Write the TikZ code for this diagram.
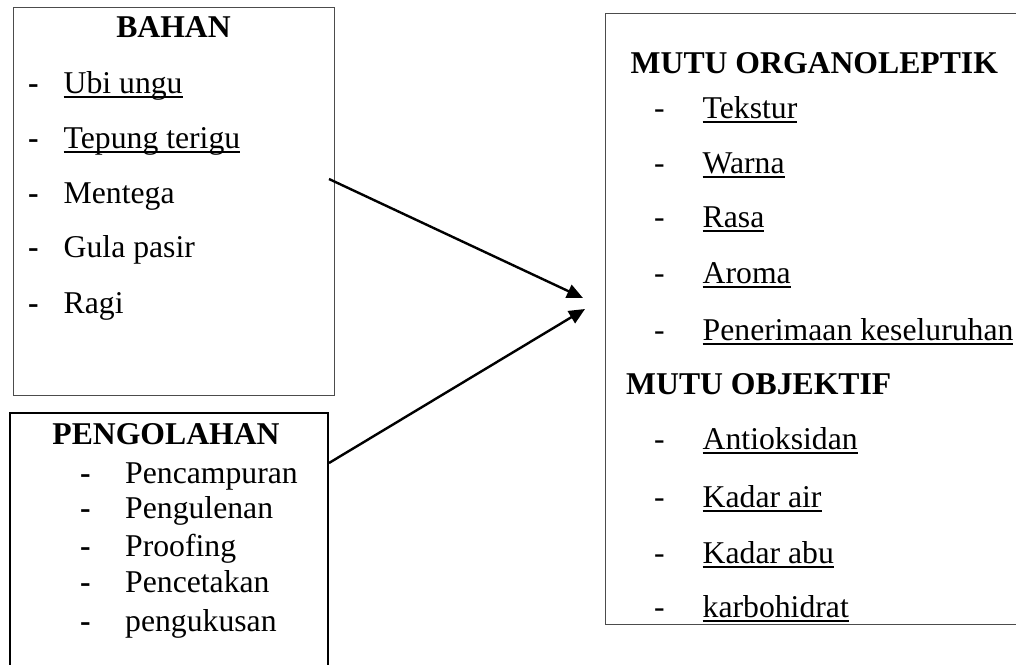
\documentclass[tikz,border=0pt]{standalone}
\usepackage{fontspec}
\setmainfont{Liberation Serif}
\usetikzlibrary{arrows.meta, positioning}
\newcommand{\garis}[1]{\setbox0\hbox{#1}\rlap{\rule[-0.17em]{\wd0}{0.065em}}\box0}

\begin{document}
\begin{tikzpicture}[x=1pt,y=-1pt,
		font=\fontsize{31.7}{38}\selectfont,
		kotak/.style={draw=black!70, line width=1pt, outer sep=0pt, anchor=north west},
		judul/.style={anchor=base, inner sep=0pt, font=\fontsize{31.7}{38}\selectfont\bfseries},
		butir/.style={anchor=base west, inner sep=0pt},
		panah/.style={-{Triangle[length=16pt,width=14pt]}, line width=2.4pt}]
	\useasboundingbox (0,0) rectangle (1016,664);
	\clip (0,0) rectangle (1016,664);
	% kotak
	\node[kotak, minimum width=321pt, minimum height=388pt] (bahan) at (13,7) {};
	\node[kotak, draw=black, line width=2.6pt, minimum width=318pt, minimum height=300pt] (olah) at (10,413) {};
	\node[kotak, minimum width=440pt, minimum height=611pt] (mutu) at (605,13) {};
	% bahan
	\node[judul] (tbahan) at (173.5,37) {BAHAN};
	\node[butir] (b1) at (63.5,93) {\garis{Ubi ungu}};
	\node[butir] (b2) at (63.5,148) {\garis{Tepung terigu}};
	\node[butir] (b3) at (63.5,203) {Mentega};
	\node[butir] (b4) at (63.5,257) {Gula pasir};
	\node[butir] (b5) at (63.5,313) {Ragi};
	\node[butir] at (28,93) {\textbf{-}};
	\node[butir] at (28,148) {\textbf{-}};
	\node[butir] at (28,203) {\textbf{-}};
	\node[butir] at (28,257) {\textbf{-}};
	\node[butir] at (28,313) {\textbf{-}};
	% pengolahan
	\node[judul] (tolah) at (166,444) {PENGOLAHAN};
	\node[butir] (p1) at (125,483) {Pencampuran};
	\node[butir] (p2) at (125,518) {Pengulenan};
	\node[butir] (p3) at (125,556) {Proofing};
	\node[butir] (p4) at (125,592) {Pencetakan};
	\node[butir] (p5) at (125,631) {pengukusan};
	\node[butir] at (80,483) {\textbf{-}};
	\node[butir] at (80,518) {\textbf{-}};
	\node[butir] at (80,556) {\textbf{-}};
	\node[butir] at (80,592) {\textbf{-}};
	\node[butir] at (80,631) {\textbf{-}};
	% mutu
	\node[judul, anchor=base west] (torg) at (630.5,73) {MUTU ORGANOLEPTIK};
	\node[butir] (m1) at (702.5,118) {\garis{Tekstur}};
	\node[butir] (m2) at (702.5,173) {\garis{Warna}};
	\node[butir] (m3) at (702.5,227) {\garis{Rasa}};
	\node[butir] (m4) at (702.5,283) {\garis{Aroma}};
	\node[butir] (m5) at (702.5,340) {\garis{Penerimaan keseluruhan}};
	\node[judul, anchor=base west] (tobj) at (626,394) {MUTU OBJEKTIF};
	\node[butir] (o1) at (702.5,449) {\garis{Antioksidan}};
	\node[butir] (o2) at (702.5,507) {\garis{Kadar air}};
	\node[butir] (o3) at (702.5,563) {\garis{Kadar abu}};
	\node[butir] (o4) at (702.5,617) {\garis{karbohidrat}};
	\node[butir] at (654,118) {-};
	\node[butir] at (654,173) {-};
	\node[butir] at (654,227) {-};
	\node[butir] at (654,283) {-};
	\node[butir] at (654,340) {-};
	\node[butir] at (654,449) {-};
	\node[butir] at (654,507) {-};
	\node[butir] at (654,563) {-};
	\node[butir] at (654,617) {-};
	% panah
	\coordinate (ujung1) at (583,298);
	\coordinate (ujung2) at (585,309);
	\draw[panah] ([shift={(-5,-22)}]bahan.east) -- (ujung1);
	\draw[panah] ([shift={(1,50)}]olah.north east) -- (ujung2);
\end{tikzpicture}
\end{document}
